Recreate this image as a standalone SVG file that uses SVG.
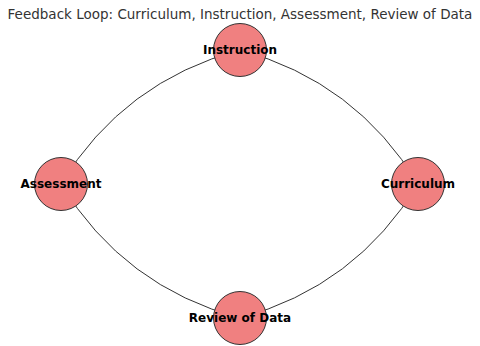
<svg xmlns="http://www.w3.org/2000/svg" width="480" height="346" viewBox="0 0 480 346">
<style>
.edge{fill:none;stroke:#333;stroke-width:1}
.node circle{fill:#F08080;stroke:#333;stroke-width:1}
.node text{font-family:"DejaVu Sans",sans-serif;font-weight:bold;font-size:12px;fill:#000;text-anchor:middle;dominant-baseline:central}
.title{font-family:"DejaVu Sans",sans-serif;font-size:13.5px;fill:#333;text-anchor:middle}
</style>
<rect width="480" height="346" fill="#fff"/>
<text class="title" x="240" y="18.5">Feedback Loop: Curriculum, Instruction, Assessment, Review of Data</text>
<g id="connectors">
<path class="edge" d="M240,50 Q355.8,81.4 418,184"/>
<path class="edge" d="M418,184 Q355.8,286.6 240,318"/>
<path class="edge" d="M240,318 Q123.7,286.8 61,184"/>
<path class="edge" d="M61,184 Q123.7,81.2 240,50"/>
</g>
<g id="instruction" class="node"><circle cx="240" cy="50" r="26.5"/><text x="240" y="50">Instruction</text></g>
<g id="curriculum" class="node"><circle cx="418" cy="184" r="26.5"/><text x="418" y="184">Curriculum</text></g>
<g id="review" class="node"><circle cx="240" cy="318" r="26.5"/><text x="240" y="318">Review of Data</text></g>
<g id="assessment" class="node"><circle cx="61" cy="184" r="26.5"/><text x="61" y="184">Assessment</text></g>
</svg>
